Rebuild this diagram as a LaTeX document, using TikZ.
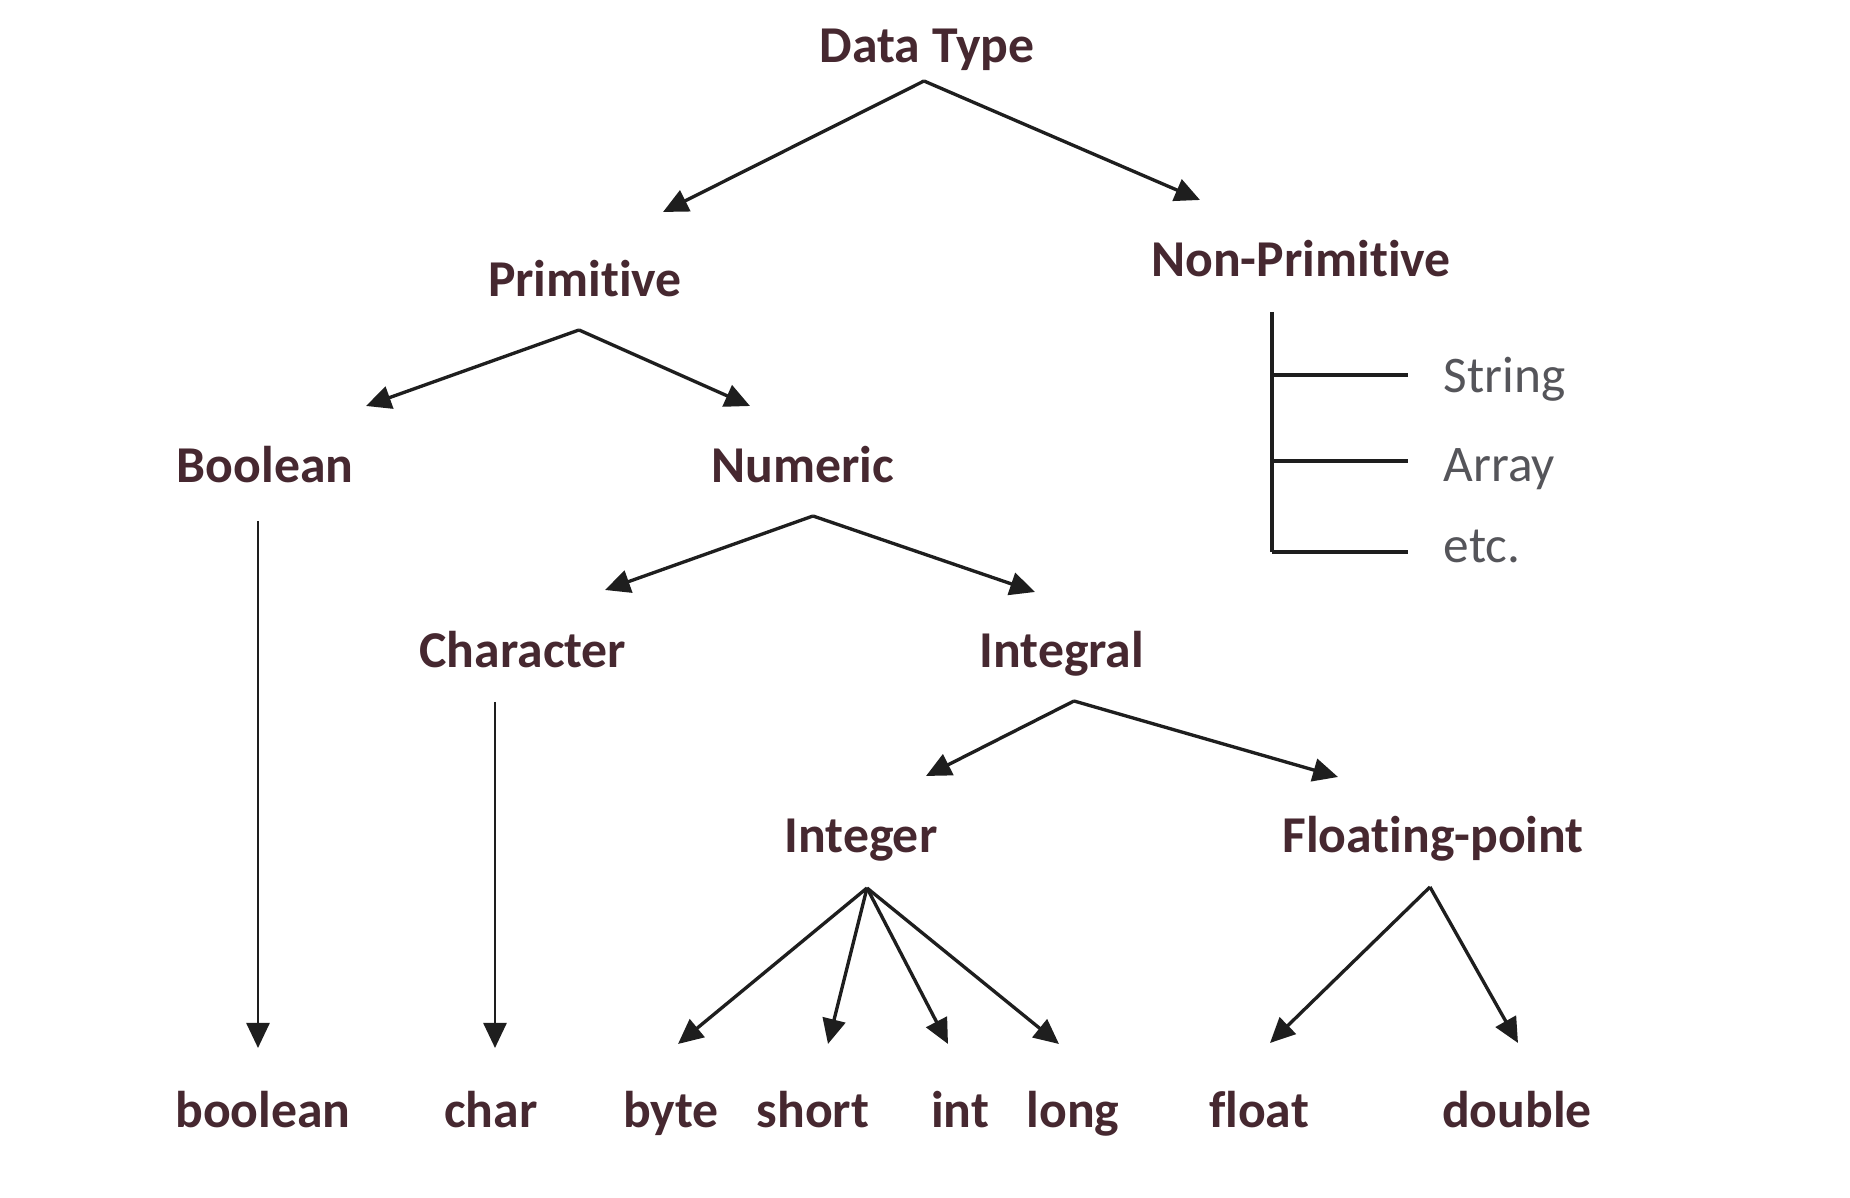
\documentclass[tikz,border=0pt]{standalone}
\usepackage{fontspec}
\setmainfont{Carlito}[RawFeature={-liga;-dlig;-clig}]
\usepackage{tikz}
\usetikzlibrary{calc, arrows.meta}

\definecolor{labelcol}{RGB}{70,40,48}
\definecolor{subcol}{RGB}{85,85,90}
\definecolor{linecol}{RGB}{30,30,30}

\tikzset{
    lbl/.style={anchor=base, inner sep=0pt, text=labelcol, font=\fontsize{14.7pt}{17pt}\selectfont\bfseries},
    sub/.style={anchor=base west, inner sep=0pt, text=subcol, font=\fontsize{14.6pt}{17pt}\selectfont}
}

\begin{document}
\begin{tikzpicture}[x=0.01cm, y=-0.01cm, >={Triangle[length=2.5mm, width=2.3mm]},
        every edge/.style={draw, ->, linecol, line width=0.95pt}]
        \useasboundingbox[fill=white] (0,0) rectangle (1850,1198);

        \node[lbl](DT) at (927, 63){Data Type};
        \coordinate(DT_a) at (924, 81);
        \coordinate(DT_d1) at (663, 212);
        \coordinate(DT_d2) at (1200, 200);

        \path(DT_a) edge node {}(DT_d1);
        \path(DT_a) edge node {}(DT_d2);

        \node[lbl](Prim) at (585, 297){Primitive};
        \coordinate(Prim_a) at (579, 330);
        \coordinate(Prim_d1) at (366, 406);
        \coordinate(Prim_d2) at (750, 406);

        \path(Prim_a) edge node {}(Prim_d1);
        \path(Prim_a) edge node {}(Prim_d2);

        \node[lbl](NonPrim) at (1301, 277){Non-Primitive};
        \coordinate(NonPrim_a) at (1272, 312);
        \coordinate(NonPrim_b) at (1272, 552);
        \coordinate(NonPrim_s) at (1272, 375);
        \coordinate(NonPrim_m) at (1272, 461);
        \coordinate(NonPrim_d1) at (1408, 375);
        \coordinate(NonPrim_d2) at (1408, 461);
        \coordinate(NonPrim_d3) at (1408, 552);
        \node[sub](Str) at (1443, 393){String};
        \node[sub](Arr) at (1443, 482){Array};
        \node[sub](Etc) at (1443, 563){etc.};

        \path(NonPrim_a) edge [-] node {}(NonPrim_b);
        \path(NonPrim_s) edge [-] node {}(NonPrim_d1);
        \path(NonPrim_m) edge [-] node {}(NonPrim_d2);
        \path(NonPrim_b) edge [-] node {}(NonPrim_d3);

        \node[lbl](Bool) at (265, 483){Boolean};
        \coordinate(Bool_a) at (258, 521);
        \coordinate(Bool_d1) at (258, 1048);

        \path(Bool_a) edge [line width=0.75pt] node {}(Bool_d1);

        \node[lbl](Num) at (803, 483){Numeric};
        \coordinate(Num_a) at (813, 516);
        \coordinate(Num_d1) at (605, 590);
        \coordinate(Num_d2) at (1035, 592);

        \path(Num_a) edge node {}(Num_d1);
        \path(Num_a) edge node {}(Num_d2);

        \node[lbl](Char) at (523, 668){Character};
        \coordinate(Char_a) at (495, 702);
        \coordinate(Char_d1) at (495, 1048);

        \path(Char_a) edge [line width=0.75pt] node {}(Char_d1);

        \node[lbl](Intg) at (1062, 668){Integral};
        \coordinate(Intg_a) at (1074, 701);
        \coordinate(Intg_d1) at (926, 776);
        \coordinate(Intg_d2) at (1338, 777);

        \path(Intg_a) edge node {}(Intg_d1);
        \path(Intg_a) edge node {}(Intg_d2);

        \node[lbl](Int) at (861, 853){Integer};
        \coordinate(Int_a) at (867, 888);
        \coordinate(Int_d1) at (678, 1044);
        \coordinate(Int_d2) at (828, 1044);
        \coordinate(Int_d3) at (948, 1044);
        \coordinate(Int_d4) at (1059, 1044);

        \path(Int_a) edge node {}(Int_d1);
        \path(Int_a) edge node {}(Int_d2);
        \path(Int_a) edge node {}(Int_d3);
        \path(Int_a) edge node {}(Int_d4);

        \node[lbl](Flt) at (1433, 853){Floating-point};
        \coordinate(Flt_a) at (1430, 887);
        \coordinate(Flt_d1) at (1270, 1043);
        \coordinate(Flt_d2) at (1518, 1043);

        \path(Flt_a) edge node {}(Flt_d1);
        \path(Flt_a) edge node {}(Flt_d2);

        \node[lbl](boolean) at (263, 1128){boolean};
        \node[lbl](char) at (491, 1128){char};
        \node[lbl](byte) at (671, 1128){byte};
        \node[lbl](short) at (813, 1128){short};
        \node[lbl](int) at (960, 1128){int};
        \node[lbl](long) at (1073, 1128){long};
        \node[lbl](float) at (1259, 1128){float};
        \node[lbl](double) at (1517, 1128){double};

    \end{tikzpicture}
\end{document}
